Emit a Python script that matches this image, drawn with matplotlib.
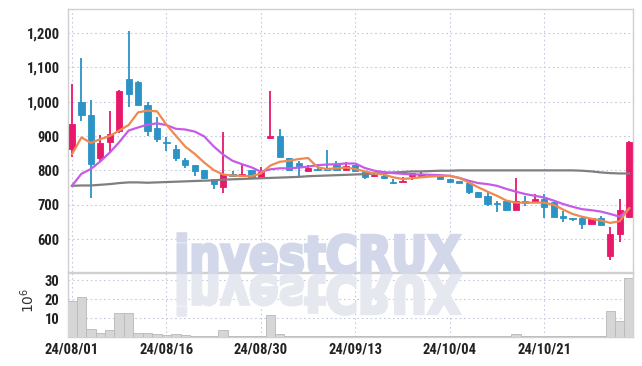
# candlestick chart with moving averages and volume panel
# Output: out.png (642x366)

import numpy as np
import matplotlib
matplotlib.use('Agg')
import matplotlib.pyplot as plt
from matplotlib import font_manager
from matplotlib.ticker import FuncFormatter
from matplotlib.textpath import TextPath
from matplotlib.patches import PathPatch
from matplotlib.font_manager import FontProperties
from matplotlib.transforms import Affine2D, IdentityTransform

# ── Data ───────────────────────────────────────────────────────────────────────
open_ = [861, 1000, 961, 835, 882, 914, 1067, 1058, 991, 923,
         884, 862, 831, 817, 800, 776, 753, 790, 783, 802,
         780, 895, 901, 835, 822, 797, 805, 808, 817, 802,
         815, 797, 784, 784, 767, 765, 783, 785, 790, 783,
         776, 768, 764, 738, 726, 705, 712, 686, 712, 707,
         717, 709, 668, 662, 660, 643, 660, 550, 614, 664]
high = [1052, 1127, 1005, 903, 974, 1034, 1207, 1060, 998, 954,
        898, 875, 835, 817, 800, 776, 913, 797, 815, 802,
        809, 1032, 920, 835, 828, 817, 819, 860, 827, 825,
        815, 797, 791, 790, 774, 780, 792, 796, 790, 790,
        776, 768, 764, 738, 737, 710, 712, 777, 726, 731,
        731, 709, 681, 662, 668, 660, 668, 634, 717, 887]
low = [838, 945, 720, 828, 850, 910, 985, 989, 901, 884,
       855, 827, 807, 784, 775, 746, 734, 780, 783, 781,
       780, 890, 838, 797, 785, 797, 800, 801, 800, 802,
       797, 775, 780, 774, 759, 765, 773, 780, 780, 776,
       765, 763, 731, 721, 696, 680, 681, 686, 696, 707,
       661, 663, 649, 652, 628, 643, 641, 539, 592, 664]
close = [935, 960, 820, 881, 907, 1030, 1021, 989, 914, 892,
         880, 835, 815, 797, 777, 759, 790, 785, 790, 781,
         794, 901, 838, 801, 812, 806, 800, 801, 800, 812,
         797, 781, 787, 777, 762, 768, 792, 790, 783, 776,
         765, 763, 736, 721, 702, 703, 686, 712, 706, 718,
         693, 663, 660, 657, 643, 660, 641, 616, 686, 884]

ma_short = [847, 896, 880, 891, 900, 916, 932, 969, 974, 972,
            933, 901, 869, 848, 823, 801, 788, 785, 784, 783,
            791, 814, 825, 828, 833, 836, 809, 804, 806, 808,
            804, 797, 791, 788, 780, 775, 777, 780, 782, 784,
            784, 778, 765, 751, 738, 726, 712, 706, 706, 706,
            706, 700, 686, 673, 665, 659, 654, 647, 652, 690]
ma_mid = [755, 790, 804, 826, 852, 882, 916, 925, 933, 937,
          932, 921, 919, 913, 899, 870, 846, 828, 818, 809,
          796, 803, 806, 806, 808, 811, 815, 817, 818, 820,
          820, 807, 799, 795, 792, 790, 788, 788, 787, 786,
          784, 778, 770, 763, 760, 755, 746, 738, 731, 726,
          721, 712, 702, 694, 687, 684, 680, 673, 665, 689]
ma_long = [755, 756, 756, 758, 760, 763, 765, 765, 764, 765,
           766, 767, 768, 769, 770, 771, 773, 774, 775, 776,
           777, 778, 779, 780, 781, 783, 784, 785, 786, 787,
           788, 789, 791, 792, 794, 795, 797, 797, 798, 799,
           799, 800, 800, 800, 800, 800, 800, 800, 800, 800,
           800, 800, 800, 800, 799, 797, 794, 792, 791, 791]

volume = [18.7, 21.0, 4.2, 2.3, 3.7, 12.6, 12.6, 2.3, 2.3, 1.6,
          1.0, 1.6, 1.0, 0.5, 0.5, 0.5, 3.7, 0.5, 0.5, 0.3,
          0.5, 11.6, 1.8, 0.7, 0.7, 0.3, 0.3, 0.7, 0.3, 0.3,
          0.3, 0.3, 0.3, 0.3, 0.3, 0.3, 0.7, 0.3, 0.3, 0.3,
          0.3, 0.3, 0.5, 0.3, 0.6, 0.6, 0.3, 1.8, 0.3, 0.3,
          0.3, 0.6, 0.3, 0.3, 0.3, 0.3, 0.3, 13.8, 8.6, 31.0]

tick_idx = [0, 10, 20, 30, 40, 50]
tick_labels = ['24/08/01', '24/08/16', '24/08/30', '24/09/13', '24/10/04', '24/10/21']

# ── Style ──────────────────────────────────────────────────────────────────────
UP, DOWN = '#e8196b', '#2b93c5'
GRID = '#c5cade'
installed = {f.name for f in font_manager.fontManager.ttflist}
narrow = [f for f in ['Roboto Condensed', 'DejaVu Sans Condensed',
                      'Liberation Sans Narrow', 'Open Sans Condensed']
          if f in installed]
FONT = narrow[:1] + ['DejaVu Sans']
plt.rcParams['font.family'] = FONT
TICK_FS = 10.5 if narrow else 9
TICK_W = 'bold' if narrow else 'semibold'

o = np.array(open_, float); c = np.array(close, float)
h = np.array(high, float); l = np.array(low, float)
x = np.arange(len(o))
up = c >= o
col = np.where(up, UP, DOWN)

fig = plt.figure(figsize=(6.42, 3.66), dpi=100)
ax = fig.add_axes([68/642, 1-272/366, (632.5-68)/642, (272-9)/366])
axv = fig.add_axes([68/642, 1-337/366, (632.5-68)/642, (337-273)/366], sharex=ax)
for a in (ax, axv):
    a.set_facecolor('none')
    for s in a.spines.values():
        s.set_color('#d0d0d0')
        s.set_linewidth(1.0)
    a.grid(True, color=GRID, ls=(0, (1.5, 2.5)), lw=0.8)
    a.set_axisbelow(True)
    a.tick_params(length=0, labelsize=TICK_FS, colors='#222222', pad=6)
axv.tick_params(axis='x', pad=4)

# ── Watermark (text + mirrored reflection) ─────────────────────────────────────
tp = TextPath((0, 0), 'investCRUX', size=50,
              prop=FontProperties(family='DejaVu Sans', weight='heavy'))
ext = tp.get_extents()
sx = (460 - 178) / ext.width
sy = 40 / ext.height
base_y = 366 - 273   # baseline in display px (origin bottom-left)
tr_main = Affine2D().translate(-ext.x0, 0).scale(sx, sy).translate(178, base_y)
tr_refl = Affine2D().translate(-ext.x0, 0).scale(sx, -sy).translate(178, base_y - 3)
fig.patches.append(PathPatch(tr_main.transform_path(tp), fc='#d2d7ea', ec='#d2d7ea',
                             lw=2.2, transform=IdentityTransform(), zorder=0, figure=fig))
fig.patches.append(PathPatch(tr_refl.transform_path(tp), fc='#e6e8f0', ec='#e6e8f0',
                             lw=2.2, transform=IdentityTransform(), zorder=0, figure=fig))

# ── Candles ────────────────────────────────────────────────────────────────────
ax.vlines(x, l, h, colors=col, lw=1.3, zorder=3)
body_lo = np.minimum(o, c)
body_h = np.maximum(np.abs(c - o), 3)
ax.bar(x, body_h, bottom=body_lo, width=0.66, color=col, edgecolor=col,
       lw=0.6, zorder=4)

ax.plot(x, ma_long, color='#7f7f7f', lw=1.6, zorder=5)
ax.plot(x, ma_mid, color='#c65be6', lw=1.6, zorder=5)
ax.plot(x, ma_short, color='#ee8a4f', lw=1.6, zorder=6)

ax.set_ylim(504, 1270)
ax.set_yticks([600, 700, 800, 900, 1000, 1100, 1200])
ax.yaxis.set_major_formatter(FuncFormatter(lambda v, p: f'{v:,.0f}'))
ax.set_xlim(-0.42, 59.35)
ax.set_xticks(tick_idx)
plt.setp(ax.get_xticklabels(), visible=False)
for lbl in ax.get_yticklabels():
    lbl.set_fontweight(TICK_W)

# ── Volume ─────────────────────────────────────────────────────────────────────
axv.bar(x, volume, width=1.0, color='#d6d6d6', edgecolor='#b8b8b8', lw=0.6, zorder=3)
axv.set_ylim(0, 33.7)
axv.set_yticks([10, 20, 30])
axv.set_xticks(tick_idx)
axv.set_xticklabels(tick_labels)
for lbl in axv.get_xticklabels() + axv.get_yticklabels():
    lbl.set_fontweight(TICK_W)
axv.set_ylabel(r'$10^6$', fontsize=10, color='#333333')
axv.yaxis.set_label_coords(-0.055, 0.58)

fig.savefig('out.png', dpi=100)
plt.close(fig)
